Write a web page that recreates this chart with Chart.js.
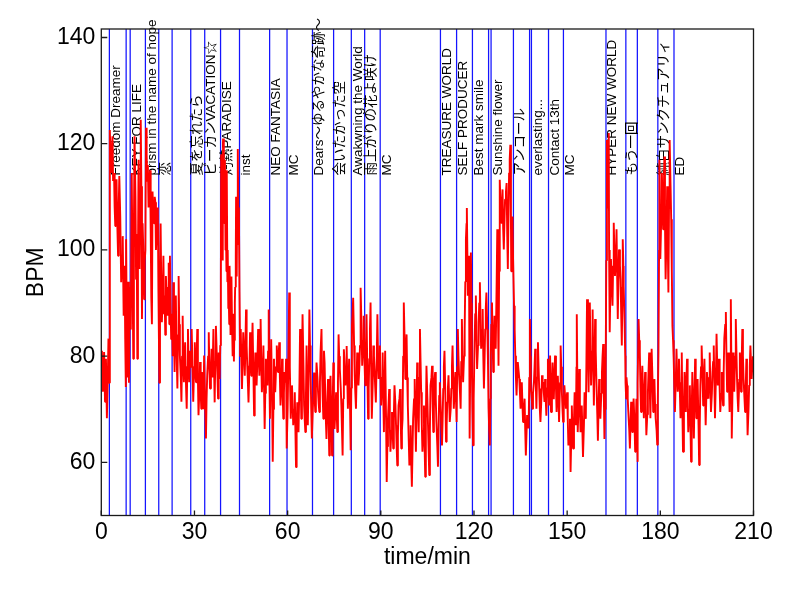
<!DOCTYPE html>
<html>
<head>
<meta charset="utf-8">
<script src="https://cdn.jsdelivr.net/npm/chart.js@4.4.1/dist/chart.umd.min.js"></script>
<style>
    html, body { margin: 0; padding: 0; background: #fff; }
    #wrap { width: 800px; height: 600px; }
</style>
</head>
<body>
<div id="wrap"><canvas id="hrChart"></canvas></div>
<script>
// Inicio de cada canción (min) y su título
const songStart = [2.6, 8.0, 9.3, 14.2, 18.5, 22.8, 28.8, 33.3, 38.4, 44.5, 54.2, 59.8, 68.0, 74.8, 80.5, 84.8,
    89.8, 109.2, 114.4, 119.5, 124.7, 125.5, 132.7, 137.9, 138.5, 144.0, 148.8, 162.5, 168.9, 172.6, 179.2, 184.4];
const songTitle = ['Freedom Dreamer', '', 'KEY FOR LIFE', 'prism in the name of hope', '恋', '', '夏を忘れたら',
    'ビーカンVACATION☆', '灼熱PARADISE', 'inst', 'NEO FANTASIA', 'MC', 'Dears～ゆるやかな奇跡～', '会いたかった空',
    'Awakwning the World', '雨上がりの花よ咲け', 'MC', 'TREASURE WORLD', 'SELF PRODUCER', 'Best mark smile', '',
    'Sunshine flower', 'アンコール', '', 'everlasting...', 'Contact 13th', 'MC', 'HYPER NEW WORLD', 'もう一回', '',
    '純白サンクチュアリィ', 'ED'];

const xTicks = [0, 30, 60, 90, 120, 150, 180, 210];
const yTicks = [60, 80, 100, 120, 140];

// Frecuencia cardiaca [time/min, BPM]
const heartRate = [
    [0,78],[0.2,81],[0.5,73.3],[0.9,80.8],[1.2,71.4],[1.5,79.5],[1.8,68.3],[2.1,76],[2.3,83.3],[2.5,75],
    [2.7,110],[2.8,122.6],[3.1,114.5],[3.3,118],[3.6,121.4],[3.8,113],[4.1,114.5],[4.3,108],[4.5,104.5],[4.7,110],
    [4.9,113.3],[5.1,106],[5.4,98.9],[5.6,108],[5.8,113.9],[6.1,106.4],[6.4,93.9],[6.7,99],[6.9,102.6],[7.2,87.6],
    [7.5,97],[7.7,83.3],[7.9,74.2],[8.0,102],[8.3,76],[8.6,94],[8.9,75],[9.2,93],
    [9.5,85],[9.8,114.5],[10.0,100],[10.3,79.5],[10.5,105],[10.7,121.4],[11.0,110],[11.2,94.5],[11.4,103],[11.6,79.5],
    [11.8,98],[12.0,117],[12.3,96.4],[12.5,110],[12.7,124.5],[12.9,112],[13.1,87],[13.3,105],[13.5,100.7],[13.8,90.7],[14.0,98],
    [14.2,100],[14.4,123],[14.6,118],[14.8,113],[15.0,116],[15.2,108],[15.4,112],[15.7,115],[15.9,104],[16.1,91],
    [16.3,86],[16.5,111],[16.7,107],[17.0,105],[17.2,110],[17.4,109],[17.6,100],[17.8,103],[18.0,105],[18.2,108],[18.4,92],
    [18.7,75],[18.9,96],[19.1,105],[19.3,94],[19.5,86.4],[19.8,92],[20.0,98.9],[20.2,88],[20.4,91.4],[20.6,84],
    [20.8,95.1],[21.1,90],[21.3,87.6],[21.5,93],[21.7,97.6],[21.9,86],[22.1,98.9],[22.3,90],[22.5,83.2],[22.7,88],
    [23.0,80],[23.2,93.9],[23.4,84],[23.6,77],[23.8,86],[24.0,91.4],[24.2,82],[24.5,73.9],[24.7,84],[24.9,95.1],
    [25.1,86],[25.3,80.1],[25.6,76],[25.8,71.4],[26.0,80],[26.2,87.6],[26.4,79],[26.6,75.1],[26.8,80],[27.0,82.6],
    [27.3,74],[27.5,70.1],[27.7,78],[27.9,85.1],[28.1,79],[28.3,75.1],[28.6,81],
    [28.9,78],[29.1,85.1],[29.4,77],[29.6,71.4],[29.9,78],[30.1,82.6],[30.3,77],[30.5,75.1],[30.7,80],[30.9,85.1],
    [31.1,76],[31.3,68.9],[31.6,74],[31.8,78.9],[32.0,73],[32.2,70.1],[32.4,77],[32.6,75.7],[32.9,70],[33.1,80.1],
    [33.4,72],[33.7,64.5],[33.9,72],[34.1,76.4],[34.4,80],[34.6,84.5],[34.8,78],[35.0,73.9],[35.3,77],[35.5,81.4],
    [35.8,76],[36.1,85.1],[36.3,78],[36.5,71.3],[36.7,79],[36.9,85.7],[37.2,80],[37.4,76.3],[37.6,72],[37.8,80.7],
    [38.1,75.7],[38.3,82],
    [38.5,95],[38.6,118],[38.8,104],[38.9,110],[39.1,98],[39.2,121],[39.4,107],[39.5,113],[39.7,105],[39.8,117],
    [40.0,100],[40.1,106],[40.3,96],[40.4,115],[40.6,94],[40.7,100],[40.9,89],[41.0,92],[41.2,86],[41.3,97],
    [41.5,90],[41.6,84],[41.8,89],[41.9,95],[42.1,86],[42.2,80],[42.4,85],[42.5,88],[42.7,79],[42.8,83],
    [43.0,90],[43.1,93],[43.3,99],[43.4,110],[43.6,95],[43.7,104],[43.9,112],[44.0,119],[44.2,101],[44.3,108],[44.5,92],
    [44.7,80],[44.9,85.1],[45.1,79],[45.3,73.8],[45.5,79],[45.7,84.5],[46.0,80],[46.2,76.3],[46.4,82],[46.6,88.8],
    [46.8,82],[47.0,78.2],[47.2,75],[47.4,71.3],[47.7,78],[47.9,84.5],[48.1,80],[48.3,76.3],[48.5,81],[48.7,86.3],
    [49.0,76],[49.2,68.8],[49.4,75],[49.6,80.7],[49.8,78],[50.0,74.5],[50.3,80],[50.5,85.1],[50.7,80],[50.9,76.3],
    [51.1,81],[51.3,87],[51.5,79],[51.7,73.2],[52.0,77],[52.2,82],[52.4,74],[52.6,66.3],[52.8,73],[53.0,79.5],
    [53.3,77],[53.5,74.5],[53.7,81],[53.9,88.8],[54.1,77],
    [54.3,68.2],[54.5,76],[54.7,83.2],[55.0,72],[55.2,60.1],[55.4,70],[55.6,79.5],[55.8,76],[56.0,73.2],[56.3,78],
    [56.5,82],[56.7,79],[56.9,77],[57.1,80],[57.3,82.6],[57.5,76],[57.7,70.7],[58.0,75],[58.2,79.5],[58.4,73],
    [58.6,68.2],[58.8,73],[59.0,77],[59.3,75],[59.5,79.5],[59.7,62.6],
    [60.0,70],[60.2,77.6],[60.5,92],[60.7,78],[61.0,68.2],[61.2,72],[61.4,74.5],[61.6,71],[61.8,67],[62.1,70],
    [62.3,73.2],[62.5,66],[62.7,59.1],[62.9,66],[63.1,71.3],[63.3,68],[63.5,65.7],[63.8,75],[64.0,85.1],[64.2,76],
    [64.4,68.2],[64.6,78],[64.8,87.9],[65.1,78],[65.3,70.7],[65.5,68],[65.7,65.7],[65.9,73],[66.1,82],[66.3,74],
    [66.5,67],[66.8,78],[67.0,88.8],[67.2,82],[67.4,76.9],[67.6,70],[67.8,64.5],
    [68.1,70],[68.3,73],[68.5,76.9],[68.7,72],[68.9,69.5],[69.1,74],[69.3,78.8],[69.6,76],[69.8,73.2],[70.0,71],
    [70.2,69.5],[70.4,75],[70.6,80.7],[70.9,85.1],[71.1,76.3],[71.3,72],[71.5,68.2],[71.7,81],[71.9,78.8],[72.2,70],
    [72.5,64.4],[72.7,70],[73.0,75.7],[73.2,68],[73.4,61.3],[73.6,70],[73.8,76.3],[74.1,68],[74.3,61.3],[74.5,70],[74.7,78.8],
    [74.9,72],[75.1,66.3],[75.4,70],[75.6,73.2],[75.8,69],[76.0,65.7],[76.2,75],[76.4,84.1],[76.6,80],[76.8,77.6],
    [77.1,74],[77.3,70.7],[77.5,66],[77.7,61.3],[77.9,72],[78.1,81.3],[78.4,78],[78.6,74.5],[78.8,78],[79.0,81.9],
    [79.2,76],[79.4,70.1],[79.6,75],[79.8,79.5],[80.1,70],[80.3,62.3],
    [80.5,74],[80.7,85.7],[80.9,88],[81.1,91],[81.4,82],[81.6,76.3],[81.8,73],[82.0,70.1],[82.2,76],[82.4,80.7],
    [82.6,78],[82.8,74.5],[83.1,78],[83.3,82],[83.4,88],[83.6,92.9],[83.8,85],[84.0,78.2],[84.3,83],[84.5,87.6],[84.7,80],
    [84.9,76],[85.0,74.5],[85.2,81],[85.4,87.9],[85.7,76],[85.9,68.2],[86.1,74],[86.3,79.5],[86.5,85],[86.7,90.1],
    [86.9,78],[87.1,68.2],[87.4,75],[87.6,82],[87.8,80],[88.0,77],[88.2,74],[88.4,71.3],[88.7,80],[88.9,87.9],
    [89.1,80],[89.3,75.7],[89.5,79],[89.7,82],
    [89.9,76],[90.1,70.7],[90.4,76],[90.6,80.7],[90.8,72],[91.0,65.7],[91.2,74],[91.4,81],[91.7,68],[91.9,56.3],
    [92.1,63],[92.3,68.2],[92.5,71],[92.7,73.8],[92.9,67],[93.1,62],[93.4,66],[93.6,69.5],[93.8,66],[94.0,62.6],
    [94.2,69],[94.4,74.5],[94.7,71],[94.9,67],[95.1,63],[95.3,59.4],[95.5,65],[95.7,70.7],[96.0,72],[96.2,73.8],
    [96.4,68],[96.6,62.6],[96.8,66],[97.0,68.2],[97.2,80],[97.4,90.1],[97.7,82],[97.9,75.7],[98.1,80],[98.3,84.1],
    [98.5,76],[98.7,70.7],[99.0,64],[99.2,59.4],[99.4,63],[99.6,67],[99.8,60],[100.0,55.4],[100.2,62],[100.4,68.2],
    [100.7,72],[100.9,75.7],[101.1,68],[101.3,62],[101.5,70],[101.7,78.8],[101.9,72],[102.2,65.7],[102.4,76],[102.6,85.1],
    [102.8,79],[103.0,73.2],[103.2,67],[103.4,62],[103.7,66],[103.9,70.7],[104.1,63],[104.3,57.3],[104.5,68],[104.7,78.2],
    [105.0,72],[105.2,67],[105.4,62],[105.6,57.6],[105.8,66],[106.0,74.5],[106.3,76],[106.5,78.2],[106.7,71],[106.9,65.7],
    [107.1,70],[107.3,75.7],[107.5,77],[107.7,72],[107.9,67.6],[108.2,63],[108.4,59.2],[108.6,66],[108.8,72.6],[109.0,75.1],
    [109.3,70],[109.5,66],[109.7,63.2],[109.9,68],[110.1,73.9],[110.3,78],[110.5,81],[110.8,72],[111.0,63.9],[111.2,67],
    [111.4,71.4],[111.6,74],[111.8,76.4],[112.0,72],[112.2,67.6],[112.5,70],[112.7,73.9],[112.9,78],[113.1,82],[113.3,76],
    [113.5,70.1],[113.8,74],[114.0,77],[114.2,72],[114.4,67.6],
    [114.6,78],[114.8,85.1],[115.0,80],[115.2,76.4],[115.5,73],[115.7,70.1],[115.9,79],[116.1,87],[116.3,81],[116.5,75.1],
    [116.8,80],[117.0,85.1],[117.2,94],[117.4,102],[117.6,105],[117.7,107.9],[117.9,98],[118.0,91.4],[118.2,95],[118.4,98.9],
    [118.5,84],[118.7,64.5],[118.9,85],[119.0,99.5],[119.2,90],[119.3,80.1],[119.5,70],
    [119.7,63.2],[119.9,72],[120.2,82.6],[120.4,88],[120.6,91.4],[120.8,84],[121.0,77.6],[121.3,82],[121.5,86.4],[121.7,90],
    [121.9,93.9],[122.1,87],[122.3,81.4],[122.6,85],[122.8,88.9],[123.0,80],[123.2,73.9],[123.4,79],[123.6,85.1],[123.8,89],
    [124.0,92],[124.3,85],[124.5,78.9],[124.7,70.1],[124.9,66],[125.1,63.2],[125.3,72],[125.4,80.1],
    [125.6,86],[125.8,90.1],[126.0,83],[126.2,77],[126.4,82],[126.6,87.6],[126.8,84],[127.0,81.4],[127.3,94],[127.5,103.9],
    [127.7,90],[127.9,78.2],[128.1,96],[128.3,113.2],[128.6,108],[128.8,105.1],[129.0,108],[129.2,111.4],[129.4,104],[129.6,100.1],
    [129.8,105],[130.0,109.5],[130.3,111],[130.5,112.6],[130.7,103],[130.9,96.4],[131.1,106],[131.3,114.5],[131.5,117],[131.7,119.8],
    [131.9,105],[132.0,96],[132.2,102],[132.4,106.3],[132.6,98],
    [132.9,89.5],[133.1,85],[133.3,80.1],[133.5,76],[133.7,72.6],[133.9,76],[134.1,78.9],[134.4,77],[134.6,75.7],[134.8,73],
    [135.0,70.1],[135.2,73],[135.4,75.1],[135.6,71],[135.8,67.6],[136.1,70],[136.3,72],[136.5,66],[136.7,61.3],[136.9,65],
    [137.1,68.9],[137.4,67],[137.6,66.4],[137.8,76],[138.0,87],[138.2,80],[138.3,73.9],
    [138.6,72],[138.8,70.1],[139.0,73],[139.3,75.1],[139.5,78],[139.7,81.4],[139.9,75],[140.1,70.1],[140.3,76],[140.6,82.6],
    [140.8,78],[141.0,73.9],[141.2,70],[141.4,67.6],[141.7,72],[141.9,76.4],[142.1,75],[142.3,75.1],[142.5,73],[142.7,71.4],
    [142.9,75.7],[143.1,72],[143.3,68.8],[143.6,74],[143.8,79.5],
    [144.0,75],[144.2,70.7],[144.5,80.1],[144.8,69.5],[145.1,74],[145.3,78.8],[145.5,75],[145.7,71.9],[145.9,76],[146.1,80.1],
    [146.4,74],[146.6,69.5],[146.8,73],[147.0,76.3],[147.2,72],[147.4,67.6],[147.7,75],[147.9,82],[148.1,78],[148.3,73.2],
    [148.5,70],[148.7,67.6],
    [148.9,71],[149.1,74.5],[149.4,72],[149.6,70.1],[149.8,72],[150.0,73.2],[150.2,68],[150.4,63.2],[150.7,66],[150.9,68.2],
    [151.1,58.2],[151.3,64],[151.5,70.7],[151.7,66],[151.9,62.6],[152.2,68],[152.4,73.2],[152.6,70],[152.8,67],[153.0,78],
    [153.1,87.9],[153.3,74],[153.4,65.7],[153.7,71],[153.9,77.6],[154.1,71],[154.3,65.7],[154.5,68],[154.7,70.7],[154.9,66],
    [155.1,61],[155.4,67],[155.6,73.2],[155.8,71],[156.0,68.2],[156.2,79],[156.4,90.7],[156.7,81],[156.9,73.2],[157.1,82],
    [157.3,90.1],[157.5,82],[157.7,74.5],[158.0,81],[158.2,88.8],[158.4,79],[158.6,70.7],[158.8,78],[159.0,87],[159.2,81],
    [159.4,75.7],[159.7,69],[159.9,64.1],[160.1,70],[160.3,75.7],[160.5,72],[160.7,68.2],[161.0,73],[161.2,76.9],[161.4,80],
    [161.6,82.3],[161.8,73],[162.0,64.4],[162.2,70],[162.4,77.6],
    [162.6,98],[162.8,120.7],[162.9,110],[163.1,115.1],[163.2,108],[163.4,122],[163.5,100],[163.7,84.5],[163.9,92],[164.1,98.3],
    [164.4,93],[164.6,89.5],[164.8,97],[165.0,105.1],[165.2,100],[165.4,95.1],[165.7,99],[165.9,103.9],[166.1,95],[166.3,87],
    [166.5,94],[166.7,100.1],[167.0,97],[167.2,94.5],[167.4,88],[167.6,82],[167.8,93],[167.9,102],[168.1,97],[168.2,93.2],
    [168.5,86],[168.7,80.1],[168.8,75],
    [169.0,72],[169.1,76],[169.3,74.5],[169.5,72],[169.7,69.5],[170.0,66],[170.2,62.6],[170.4,67],[170.6,71.4],[170.8,68],
    [171.0,65.7],[171.2,69],[171.4,72],[171.7,67],[171.9,62],[172.1,67],[172.3,72],[172.5,66],
    [172.6,60.1],[172.8,75],[173.0,87],[173.2,83],[173.4,80.7],[173.6,74],[173.8,69.5],[174.0,74],[174.2,78.2],[174.5,72],
    [174.7,68.3],[174.9,73],[175.1,77],[175.3,71],[175.5,65.1],[175.8,69],[176.0,73.3],[176.2,77],[176.4,80.7],[176.6,74],
    [176.8,68.3],[177.0,75],[177.2,81.4],[177.5,75],[177.7,69.5],[177.9,73],[178.1,75.7],[178.3,71],[178.5,68.3],[178.8,66],
    [179.0,63.3],[179.2,72],
    [179.4,80.7],[179.6,100],[179.7,117],[179.9,108],[180.0,98.3],[180.3,106],[180.5,114.5],[180.7,109],[180.9,103.9],[181.1,110],
    [181.3,117.6],[181.5,105],[181.7,94.5],[182.0,103],[182.2,112],[182.4,101],[182.6,92],[182.8,108],[183.0,120.7],[183.3,112],
    [183.5,105.8],[183.7,96],[183.9,85.7],[184.1,83],[184.3,79.5],
    [184.5,74],[184.7,69.5],[185.0,76],[185.2,81.4],[185.4,77],[185.6,73.3],[185.8,76],[186.0,79.5],[186.3,73],[186.5,68.3],
    [186.7,75],[186.9,80.7],[187.1,70],[187.3,62],[187.6,70],[187.8,77],[188.0,73],[188.2,69.5],[188.4,75],[188.6,79.5],
    [188.8,72],[189.0,65.7],[189.3,70],[189.5,74.5],[189.7,67],[189.9,60.1],[190.1,69],[190.3,77],[190.6,70],[190.8,64.5],
    [191.0,72],[191.2,79.5],[191.4,74],[191.6,68.3],[191.8,72],[192.0,75.7],[192.3,67],[192.5,59.5],[192.7,67],[192.9,74.5],
    [193.1,78],[193.3,82],[193.6,76],[193.8,70.7],[194.0,75],[194.2,79.5],[194.4,73],[194.6,67],[194.8,72],[195.0,77],
    [195.3,74],[195.5,72],[195.7,76],[195.9,80.7],[196.1,75],[196.3,69.5],[196.6,73],[196.8,77],[197.0,79],[197.2,82],
    [197.4,75],[197.6,68.3],[197.9,76],[198.1,84.2],[198.3,79],[198.5,74.5],[198.7,77],[198.9,79.5],[199.1,74],[199.3,69.5],
    [199.6,73],[199.8,77],[200.0,74],[200.2,70.7],[200.4,77],[200.6,83.3],[200.9,86],[201.1,88.3],[201.3,80],[201.5,73.3],
    [201.7,77],[201.9,80.7],[202.1,75],[202.3,69.5],[202.5,80],[202.7,90.7],[202.9,77],[203.0,64.5],[203.2,72],[203.4,80.7],
    [203.6,77],[203.8,73.3],[204.1,80],[204.3,87],[204.5,81],[204.7,75.7],[204.9,72],[205.1,69.5],[205.4,75],[205.6,80.7],
    [205.8,77],[206.0,73.3],[206.2,79],[206.4,85.1],[206.6,80],[206.8,75.7],[207.1,72],[207.3,69.5],[207.5,74],[207.7,79.5],
    [207.9,72],[208.1,65.1],[208.4,70],[208.6,74.5],[208.8,78],[209.0,82],[209.2,79],[209.4,75.7],[209.6,78],[209.8,80],[210,77]
];

const FONT = '"Liberation Sans", Arial, "Noto Sans CJK JP", sans-serif';
const LABEL_BPM = 114;   // altura donde empiezan los títulos

// Líneas azules y títulos de canciones
const songMarks = {
    id: 'songMarks',
    beforeDatasetsDraw(chart) {
        const {ctx, chartArea: a, scales: {x, y}} = chart;
        ctx.save();
        // primero todas las líneas
        ctx.strokeStyle = 'rgb(20, 20, 255)';
        ctx.lineWidth = 1.25;
        ctx.beginPath();
        songStart.forEach(t => {
            const px = x.getPixelForValue(t);
            ctx.moveTo(px, a.top);
            ctx.lineTo(px, a.bottom);
        });
        ctx.stroke();
        // después los títulos
        ctx.fillStyle = '#000';
        ctx.font = '13.5px ' + FONT;
        ctx.textAlign = 'left';
        ctx.textBaseline = 'alphabetic';
        songStart.forEach((t, i) => {
            if (!songTitle[i]) return;
            ctx.save();
            ctx.translate(x.getPixelForValue(t) + 10.5, y.getPixelForValue(LABEL_BPM));
            ctx.rotate(-Math.PI / 2);
            ctx.fillText(songTitle[i], 0, 0);
            ctx.restore();
        });
        ctx.restore();
    }
};

// Marco y marcas hacia dentro (estilo MATLAB)
const axesBox = {
    id: 'axesBox',
    afterDatasetsDraw(chart) {
        const {ctx, chartArea: a, scales: {x, y}} = chart;
        ctx.save();
        ctx.strokeStyle = '#1a1a1a';
        ctx.lineWidth = 1.3;
        ctx.strokeRect(a.left, a.top, a.right - a.left, a.bottom - a.top);
        ctx.beginPath();
        xTicks.forEach(v => {
            const px = x.getPixelForValue(v);
            ctx.moveTo(px, a.bottom);
            ctx.lineTo(px, a.bottom - 5);
        });
        yTicks.forEach(v => {
            const py = y.getPixelForValue(v);
            ctx.moveTo(a.left, py);
            ctx.lineTo(a.left + 6, py);
        });
        ctx.stroke();
        ctx.restore();
    }
};

const axisFont = { family: FONT, size: 23 };

new Chart(document.getElementById('hrChart'), {
    type: 'line',
    data: {
        datasets: [{
            data: heartRate.map(p => ({ x: p[0], y: p[1] })),
            borderColor: '#ff0000',
            borderWidth: 1.9,
            borderJoinStyle: 'bevel',
            pointRadius: 0,
            tension: 0
        }]
    },
    options: {
        responsive: true,
        maintainAspectRatio: false,
        animation: false,
        devicePixelRatio: 1,
        layout: { padding: { top: 29, right: 46.5, bottom: 0, left: 0 } },
        plugins: {
            legend: { display: false },
            tooltip: { enabled: false }
        },
        scales: {
            x: {
                type: 'linear',
                min: 0,
                max: 210,
                afterBuildTicks: s => { s.ticks = xTicks.map(v => ({ value: v })); },
                afterFit: s => { s.height = 84.5; },
                grid: { display: false, drawTicks: false },
                border: { display: false },
                ticks: { color: '#000', font: axisFont, padding: 3, maxRotation: 0, autoSkip: false },
                title: { display: true, text: 'time/min', color: '#000', font: axisFont, padding: { top: 0, bottom: 29 } }
            },
            y: {
                min: 50,
                max: 141.6,
                afterBuildTicks: s => { s.ticks = yTicks.map(v => ({ value: v })); },
                afterFit: s => { s.width = 101.3; },
                grid: { display: false, drawTicks: false },
                border: { display: false },
                ticks: { color: '#000', font: axisFont, padding: 6 },
                title: { display: true, text: 'BPM', color: '#000', font: axisFont, padding: { top: 23, bottom: 0 } }
            }
        }
    },
    plugins: [songMarks, axesBox]
});
</script>
</body>
</html>
